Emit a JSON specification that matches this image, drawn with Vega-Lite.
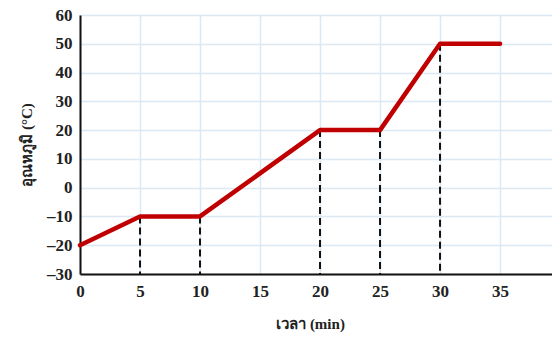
{
  "$schema": "https://vega.github.io/schema/vega-lite/v6.json",
  "autosize": "none",
  "padding": {"left": 80, "top": 15, "right": 0, "bottom": 64},
  "width": 472,
  "height": 259,
  "background": "white",
  "config": {
    "view": {"stroke": null},
    "axis": {
      "labelFont": "Liberation Serif",
      "labelFontSize": 17,
      "labelFontWeight": "bold",
      "labelColor": "#222",
      "labelOverlap": false,
      "labelFlush": false,
      "titleFont": "Liberation Serif",
      "titleFontSize": 15,
      "titleFontWeight": "bold",
      "titleColor": "#222",
      "gridColor": "#dce8f3",
      "gridWidth": 1.5,
      "gridOpacity": 1,
      "domainColor": "#111",
      "domainWidth": 2,
      "ticks": false
    }
  },
  "datasets": {
    "curve": [
      {"t": 0, "temp": -20},
      {"t": 5, "temp": -10},
      {"t": 10, "temp": -10},
      {"t": 20, "temp": 20},
      {"t": 25, "temp": 20},
      {"t": 30, "temp": 50},
      {"t": 35, "temp": 50}
    ],
    "drops": [
      {"t": 5, "temp": -10, "base": -30},
      {"t": 10, "temp": -10, "base": -30},
      {"t": 20, "temp": 20, "base": -30},
      {"t": 25, "temp": 20, "base": -30},
      {"t": 30, "temp": 50, "base": -30}
    ]
  },
  "layer": [
    {
      "data": {"name": "drops"},
      "mark": {"type": "rule", "color": "#111", "strokeWidth": 2, "strokeDash": [7, 4]},
      "encoding": {
        "x": {
          "field": "t", "type": "quantitative",
          "scale": {"domain": [0, 39.33], "nice": false, "zero": false},
          "axis": {
            "values": [0, 5, 10, 15, 20, 25, 30, 35, 40],
            "tickCount": 20,
            "labelOverlap": false,
            "labelFlush": false,
            "title": "เวลา (min)",
            "titleX": 230,
            "labelPadding": 9,
            "titlePadding": 17,
            "labelExpr": "datum.value > 36 ? '' : datum.label"
          }
        },
        "y": {
          "field": "temp", "type": "quantitative",
          "scale": {"domain": [-30, 60], "nice": false},
          "axis": {
            "values": [-30, -20, -10, 0, 10, 20, 30, 40, 50, 60],
            "tickCount": 20,
            "labelOverlap": false,
            "title": "อุณหภูมิ (°C)",
            "labelPadding": 8,
            "titlePadding": 12,
            "labelExpr": "(datum.value < 0 ? '–' : '') + format(abs(datum.value), 'd')"
          }
        },
        "y2": {"field": "base"}
      }
    },
    {
      "data": {"name": "curve"},
      "mark": {"type": "line", "color": "#c00000", "strokeWidth": 4.5, "strokeJoin": "round", "strokeCap": "round"},
      "encoding": {
        "x": {"field": "t", "type": "quantitative"},
        "y": {"field": "temp", "type": "quantitative"}
      }
    }
  ]
}
